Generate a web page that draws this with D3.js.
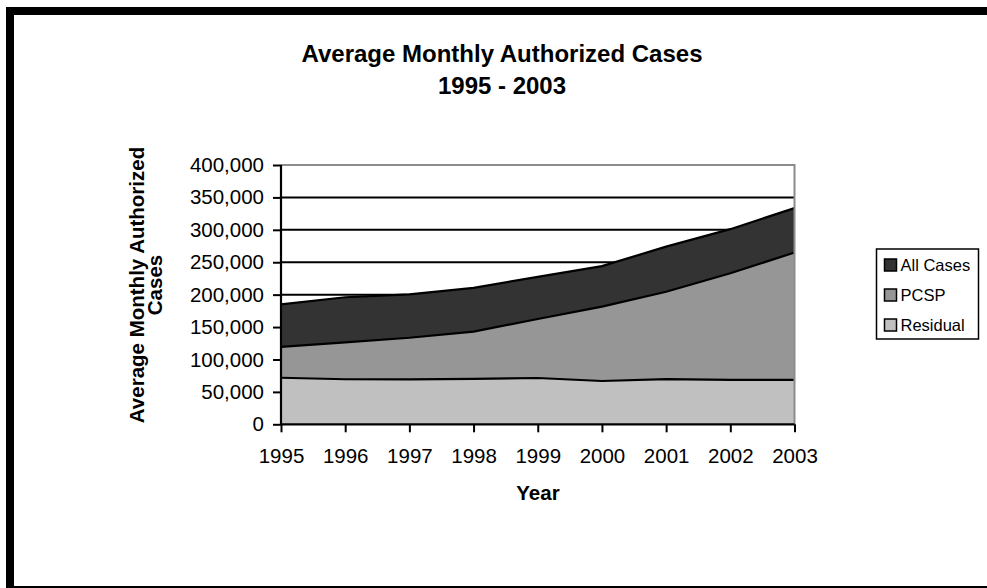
<!DOCTYPE html>
<html>
<head>
<meta charset="utf-8">
<script src="https://cdn.jsdelivr.net/npm/d3@7"></script>
<style>
  html, body { margin: 0; padding: 0; background: #fff; }
  svg { display: block; font-family: "Liberation Sans", Arial, sans-serif; }
</style>
</head>
<body>
<svg id="chart" width="987" height="588"></svg>
<script>
// Yearly averages of monthly authorized cases
const years = [1995, 1996, 1997, 1998, 1999, 2000, 2001, 2002, 2003];
const allCases = [185000, 196000, 200500, 210500, 227500, 244000, 274000, 301000, 333500];
const pcsp     = [119500, 126500, 133500, 143000, 162500, 181500, 204500, 233000, 265000];
const residual = [71800, 69500, 69400, 70200, 71400, 66800, 69800, 68500, 68500];
const yTicks = [0, 50000, 100000, 150000, 200000, 250000, 300000, 350000, 400000];

const seriesNames = ["All Cases", "PCSP", "Residual"];
const seriesColors = ["#333333", "#969696", "#c0c0c0"];
const seriesValues = [allCases, pcsp, residual];

const svg = d3.select("#chart");

// Outer frame (runs off the right edge of the page)
svg.append("rect")
  .attr("x", 10).attr("y", 11)
  .attr("width", 1000).attr("height", 579)
  .attr("fill", "none").attr("stroke", "#000").attr("stroke-width", 8);

const plotLeft = 281, plotRight = 794.5, plotTop = 165, plotBottom = 424.3;

const x = d3.scalePoint().domain(years).range([plotLeft, plotRight]);
const y = d3.scaleLinear().domain([0, 400000]).range([plotBottom, plotTop]);

// Titles
svg.append("text")
  .attr("x", 502).attr("y", 62)
  .attr("text-anchor", "middle")
  .attr("font-size", 24).attr("font-weight", "bold")
  .text("Average Monthly Authorized Cases");
svg.append("text")
  .attr("x", 502).attr("y", 93.5)
  .attr("text-anchor", "middle")
  .attr("font-size", 24).attr("font-weight", "bold")
  .text("1995 - 2003");

// Gridlines
svg.append("g")
  .selectAll("line")
  .data(yTicks.filter(d => d > 0 && d < 400000))
  .join("line")
  .attr("x1", plotLeft).attr("x2", plotRight)
  .attr("y1", d => y(d)).attr("y2", d => y(d))
  .attr("stroke", "#000").attr("stroke-width", 2);

// Areas (overlapping, each from zero)
const area = d3.area()
  .x((d, i) => x(years[i]))
  .y0(y(0))
  .y1(d => y(d));
const line = d3.line()
  .x((d, i) => x(years[i]))
  .y(d => y(d));

seriesValues.forEach((vals, k) => {
  svg.append("path")
    .datum(vals)
    .attr("d", area)
    .attr("fill", seriesColors[k]);
  svg.append("path")
    .datum(vals)
    .attr("d", line)
    .attr("fill", "none")
    .attr("stroke", "#000")
    .attr("stroke-width", 2.2);
});

// Plot area border (top & right)
svg.append("path")
  .attr("d", `M${plotLeft},${plotTop}H${plotRight}V${plotBottom}`)
  .attr("fill", "none").attr("stroke", "#8c8c8c").attr("stroke-width", 2);

// Y axis
const yAxis = d3.axisLeft(y)
  .tickValues(yTicks)
  .tickFormat(d3.format(","))
  .tickSize(8).tickPadding(9);
const gy = svg.append("g").attr("transform", `translate(${plotLeft},0)`).call(yAxis);
gy.select(".domain").attr("stroke", "#000").attr("stroke-width", 2.2).attr("d", `M0,${plotTop}V${plotBottom}`);
gy.selectAll(".tick line").attr("stroke", "#000").attr("stroke-width", 2);
gy.selectAll(".tick text").attr("font-size", 20.5).attr("fill", "#000")
  .attr("font-family", "Liberation Sans, Arial, sans-serif");

// X axis
const xAxis = d3.axisBottom(x).tickSize(8).tickPadding(16.5);
const gx = svg.append("g").attr("transform", `translate(0,${plotBottom})`).call(xAxis);
gx.select(".domain").attr("stroke", "#000").attr("stroke-width", 2.2).attr("d", `M${plotLeft},0H${plotRight}`);
gx.selectAll(".tick line").attr("stroke", "#000").attr("stroke-width", 2);
gx.selectAll(".tick text").attr("font-size", 20.5).attr("fill", "#000")
  .attr("font-family", "Liberation Sans, Arial, sans-serif");

// Axis titles
svg.append("text")
  .attr("x", 538).attr("y", 500)
  .attr("text-anchor", "middle")
  .attr("font-size", 20.5).attr("font-weight", "bold")
  .text("Year");

const yTitle = svg.append("g").attr("transform", "translate(0,285) rotate(-90)");
yTitle.append("text")
  .attr("x", 0).attr("y", 143.5)
  .attr("text-anchor", "middle")
  .attr("font-size", 20.5).attr("font-weight", "bold")
  .text("Average Monthly Authorized");
yTitle.append("text")
  .attr("x", 0).attr("y", 161.5)
  .attr("text-anchor", "middle")
  .attr("font-size", 20.5).attr("font-weight", "bold")
  .text("Cases");

// Legend
const lg = svg.append("g");
lg.append("rect")
  .attr("x", 876.5).attr("y", 249)
  .attr("width", 102).attr("height", 90)
  .attr("fill", "#fff").attr("stroke", "#000").attr("stroke-width", 1.5);
seriesNames.forEach((name, k) => {
  const cy = 265 + k * 30;
  lg.append("rect")
    .attr("x", 884.5).attr("y", cy - 6)
    .attr("width", 12).attr("height", 12)
    .attr("fill", seriesColors[k]).attr("stroke", "#000").attr("stroke-width", 1.5);
  lg.append("text")
    .attr("x", 900.5).attr("y", cy + 6)
    .attr("font-size", 16.5)
    .text(name);
});
</script>
</body>
</html>
